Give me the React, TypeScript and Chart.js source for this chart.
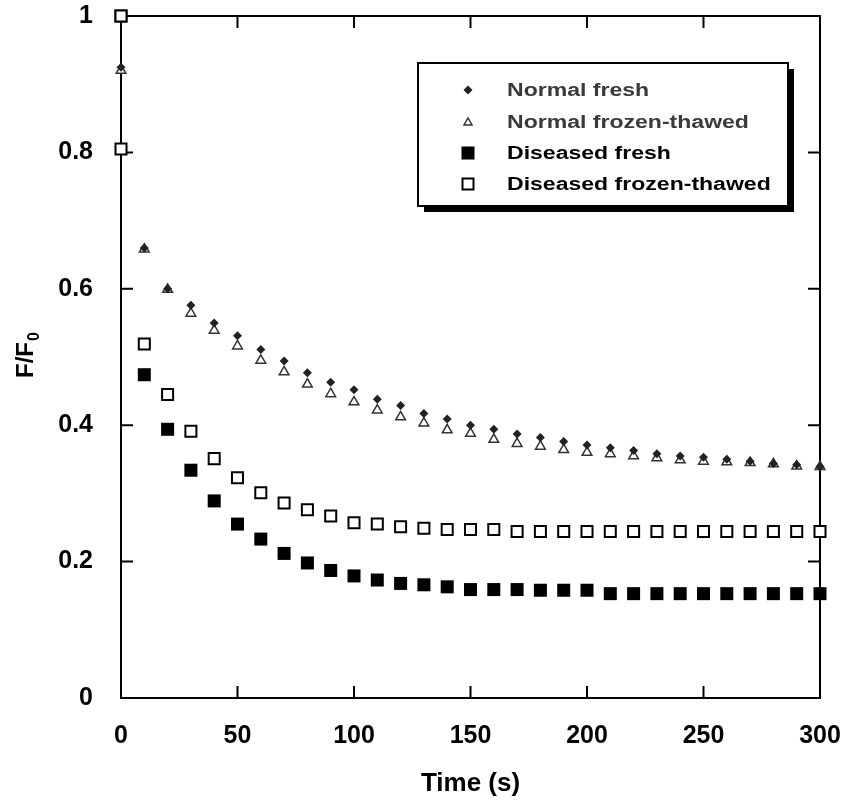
import React, { useEffect, useRef } from 'react';
import { Chart, registerables } from 'chart.js';

Chart.register(...registerables);

// ---- Data ----
const TIMES = [0, 10, 20, 30, 40, 50, 60, 70, 80, 90, 100, 110, 120, 130, 140, 150,
  160, 170, 180, 190, 200, 210, 220, 230, 240, 250, 260, 270, 280, 290, 300];

const NORMAL_FRESH = [0.925, 0.660, 0.600, 0.576, 0.550, 0.531, 0.511, 0.494, 0.477, 0.463,
  0.452, 0.438, 0.429, 0.417, 0.409, 0.400, 0.394, 0.387, 0.382, 0.376, 0.371, 0.367,
  0.363, 0.358, 0.355, 0.353, 0.350, 0.347, 0.344, 0.342, 0.339];

const NORMAL_FROZEN = [0.920, 0.658, 0.599, 0.564, 0.539, 0.516, 0.495, 0.478, 0.460, 0.446,
  0.434, 0.422, 0.412, 0.403, 0.393, 0.388, 0.379, 0.373, 0.369, 0.364, 0.360, 0.358,
  0.355, 0.352, 0.349, 0.347, 0.346, 0.345, 0.343, 0.340, 0.339];

const DISEASED_FRESH = [1.0, 0.474, 0.394, 0.334, 0.289, 0.255, 0.233, 0.212, 0.198, 0.187,
  0.179, 0.173, 0.168, 0.166, 0.163, 0.159, 0.159, 0.159, 0.158, 0.158, 0.158, 0.153,
  0.153, 0.153, 0.153, 0.153, 0.153, 0.153, 0.153, 0.153, 0.153];

const DISEASED_FROZEN = [1.0, 0.519, 0.445, 0.391, 0.351, 0.323, 0.301, 0.286, 0.276, 0.267,
  0.257, 0.255, 0.251, 0.249, 0.247, 0.247, 0.247, 0.244, 0.244, 0.244, 0.244, 0.244,
  0.244, 0.244, 0.244, 0.244, 0.244, 0.244, 0.244, 0.244, 0.244];

// extra early reading of the diseased frozen-thawed sample
const DISEASED_FROZEN_EXTRA_TIMES = [0];
const DISEASED_FROZEN_EXTRA = [0.805];

const X_TICKS = [0, 50, 100, 150, 200, 250, 300];
const Y_TICKS = [0, 0.2, 0.4, 0.6, 0.8, 1];
const Y_TICK_LABELS = ['0', '0.2', '0.4', '0.6', '0.8', '1'];
const LEGEND_LABELS = ['Normal fresh', 'Normal frozen-thawed', 'Diseased fresh', 'Diseased frozen-thawed'];
const X_TITLE = 'Time (s)';
const Y_TITLE_MAIN = 'F/F';
const Y_TITLE_SUB = '0';

const FONT = '"Liberation Sans", Arial, Helvetica, sans-serif';

const pts = (xs: number[], ys: number[]) => xs.map((x, i) => ({ x, y: ys[i] }));

// ---- marker drawing helpers (legend) ----
function drawMarker(ctx: CanvasRenderingContext2D, kind: number, x: number, y: number) {
  ctx.save();
  if (kind === 0) {
    ctx.fillStyle = '#222';
    ctx.beginPath();
    ctx.moveTo(x, y - 4.5); ctx.lineTo(x + 4.5, y); ctx.lineTo(x, y + 4.5); ctx.lineTo(x - 4.5, y);
    ctx.closePath(); ctx.fill();
  } else if (kind === 1) {
    ctx.strokeStyle = '#333'; ctx.lineWidth = 1.5; ctx.fillStyle = '#fff';
    ctx.beginPath();
    ctx.moveTo(x, y - 4); ctx.lineTo(x + 4, y + 3); ctx.lineTo(x - 4, y + 3);
    ctx.closePath(); ctx.fill(); ctx.stroke();
  } else if (kind === 2) {
    ctx.fillStyle = '#000';
    ctx.fillRect(x - 6.5, y - 6.5, 13, 13);
  } else {
    ctx.strokeStyle = '#000'; ctx.lineWidth = 2; ctx.fillStyle = '#fff';
    ctx.fillRect(x - 5.5, y - 5.5, 11, 11);
    ctx.strokeRect(x - 5.5, y - 5.5, 11, 11);
  }
  ctx.restore();
}

const framePlugin = {
  id: 'frameTicks',
  beforeDatasetsDraw(chart: any) {
    const { ctx, chartArea: a, scales } = chart;
    ctx.save();
    ctx.strokeStyle = '#000';
    ctx.lineWidth = 2;
    ctx.strokeRect(a.left, a.top, a.right - a.left, a.bottom - a.top);
    const L = 12;
    ctx.beginPath();
    scales.x.ticks.forEach((t: any) => {
      const px = scales.x.getPixelForValue(t.value);
      if (px <= a.left + 1 || px >= a.right - 1) return;
      ctx.moveTo(px, a.bottom); ctx.lineTo(px, a.bottom - L);
      ctx.moveTo(px, a.top); ctx.lineTo(px, a.top + L);
    });
    scales.y.ticks.forEach((t: any) => {
      const py = scales.y.getPixelForValue(t.value);
      if (py <= a.top + 1 || py >= a.bottom - 1) return;
      ctx.moveTo(a.left, py); ctx.lineTo(a.left + L, py);
      ctx.moveTo(a.right, py); ctx.lineTo(a.right - L, py);
    });
    ctx.stroke();
    ctx.restore();
  },
  afterDraw(chart: any) {
    const { ctx } = chart;
    // y-axis title with subscript
    ctx.save();
    ctx.fillStyle = '#000';
    ctx.translate(33, 378);
    ctx.rotate(-Math.PI / 2);
    ctx.textBaseline = 'alphabetic';
    ctx.textAlign = 'left';
    ctx.font = `bold 24px ${FONT}`;
    ctx.fillText(Y_TITLE_MAIN, 0, 0);
    const w = ctx.measureText(Y_TITLE_MAIN).width;
    ctx.font = `bold 16px ${FONT}`;
    ctx.fillText(Y_TITLE_SUB, w + 1, 6);
    ctx.restore();

    // legend box with drop shadow
    const bx = 418, by = 63, bw = 370, bh = 143, sh = 6;
    ctx.save();
    ctx.fillStyle = '#000';
    ctx.fillRect(bx + sh, by + sh, bw, bh);
    ctx.fillStyle = '#fff';
    ctx.fillRect(bx, by, bw, bh);
    ctx.strokeStyle = '#000';
    ctx.lineWidth = 2;
    ctx.strokeRect(bx, by, bw, bh);
    const rows = [90, 122, 153, 184];
    LEGEND_LABELS.forEach((label, i) => {
      drawMarker(ctx, i, 468, rows[i]);
      ctx.save();
      ctx.translate(507, rows[i]);
      ctx.scale(1.28, 1);
      ctx.font = `bold 18px ${FONT}`;
      ctx.fillStyle = i < 2 ? '#3a3a3a' : '#000';
      ctx.textBaseline = 'middle';
      ctx.textAlign = 'left';
      ctx.fillText(label, 0, 1);
      ctx.restore();
    });
    ctx.restore();
  },
};

const zeroPad = (s: any) => {
  s.paddingTop = 0; s.paddingBottom = 0; s.paddingLeft = 0; s.paddingRight = 0;
};

export default function App() {
  const ref = useRef<HTMLCanvasElement | null>(null);

  useEffect(() => {
    if (!ref.current) return;
    const chart = new Chart(ref.current, {
      type: 'scatter',
      data: {
        datasets: [
          {
            label: LEGEND_LABELS[0],
            data: pts(TIMES, NORMAL_FRESH),
            pointStyle: 'rectRot',
            pointRadius: 4.5,
            backgroundColor: '#222',
            borderColor: '#222',
            borderWidth: 0,
            order: 0,
            clip: false,
          },
          {
            label: LEGEND_LABELS[3],
            data: pts(TIMES, DISEASED_FROZEN),
            pointStyle: 'rect',
            pointRadius: 7.8,
            backgroundColor: '#fff',
            borderColor: '#000',
            borderWidth: 2,
            order: 1,
            clip: false,
          },
          {
            label: LEGEND_LABELS[3] + ' (early)',
            data: pts(DISEASED_FROZEN_EXTRA_TIMES, DISEASED_FROZEN_EXTRA),
            pointStyle: 'rect',
            pointRadius: 7.8,
            backgroundColor: '#fff',
            borderColor: '#000',
            borderWidth: 2,
            order: 2,
            clip: false,
          },
          {
            label: LEGEND_LABELS[1],
            data: pts(TIMES, NORMAL_FROZEN),
            pointStyle: 'triangle',
            pointRadius: 5.6,
            backgroundColor: '#fff',
            borderColor: '#333',
            borderWidth: 1.5,
            order: 3,
            clip: false,
          },
          {
            label: LEGEND_LABELS[2],
            data: pts(TIMES, DISEASED_FRESH),
            pointStyle: 'rect',
            pointRadius: 9.2,
            backgroundColor: '#000',
            borderColor: '#000',
            borderWidth: 0,
            order: 4,
            clip: false,
          },
        ],
      },
      options: {
        animation: false,
        responsive: false,
        maintainAspectRatio: false,
        events: [],
        layout: { autoPadding: false, padding: { top: 16, right: 26, left: 0, bottom: 0 } },
        plugins: {
          legend: { display: false },
          tooltip: { enabled: false },
          title: { display: false },
        },
        scales: {
          x: {
            type: 'linear',
            position: 'bottom',
            min: 0,
            max: 300,
            afterBuildTicks: (s: any) => { s.ticks = X_TICKS.map((v) => ({ value: v })); },
            ticks: {
              color: '#000',
              padding: 15,
              maxRotation: 0,
              font: { family: FONT, size: 25, weight: 'bold' },
            },
            grid: { display: false },
            border: { display: false },
            title: {
              display: true,
              text: X_TITLE,
              color: '#000',
              padding: { top: 0, bottom: 2 },
              font: { family: FONT, size: 26, weight: 'bold' },
            },
            afterFit: (s: any) => { s.height = 103; zeroPad(s); },
          },
          y: {
            type: 'linear',
            min: 0,
            max: 1,
            afterBuildTicks: (s: any) => { s.ticks = Y_TICKS.map((v) => ({ value: v })); },
            ticks: {
              color: '#000',
              padding: 20,
              callback: (v: any) => {
                const i = Y_TICKS.findIndex((t) => Math.abs(t - Number(v)) < 1e-9);
                return i >= 0 ? Y_TICK_LABELS[i] : '';
              },
              font: { family: FONT, size: 25, weight: 'bold' },
            },
            grid: { display: false },
            border: { display: false },
            afterFit: (s: any) => { s.width = 121; zeroPad(s); },
          },
        },
      } as any,
      plugins: [framePlugin],
    });
    return () => chart.destroy();
  }, []);

  return (
    <div style={{ position: 'absolute', left: 0, top: 0, width: 846, height: 801, background: '#fff' }}>
      <canvas ref={ref} width={846} height={801} style={{ display: 'block', width: 846, height: 801 }} />
    </div>
  );
}
